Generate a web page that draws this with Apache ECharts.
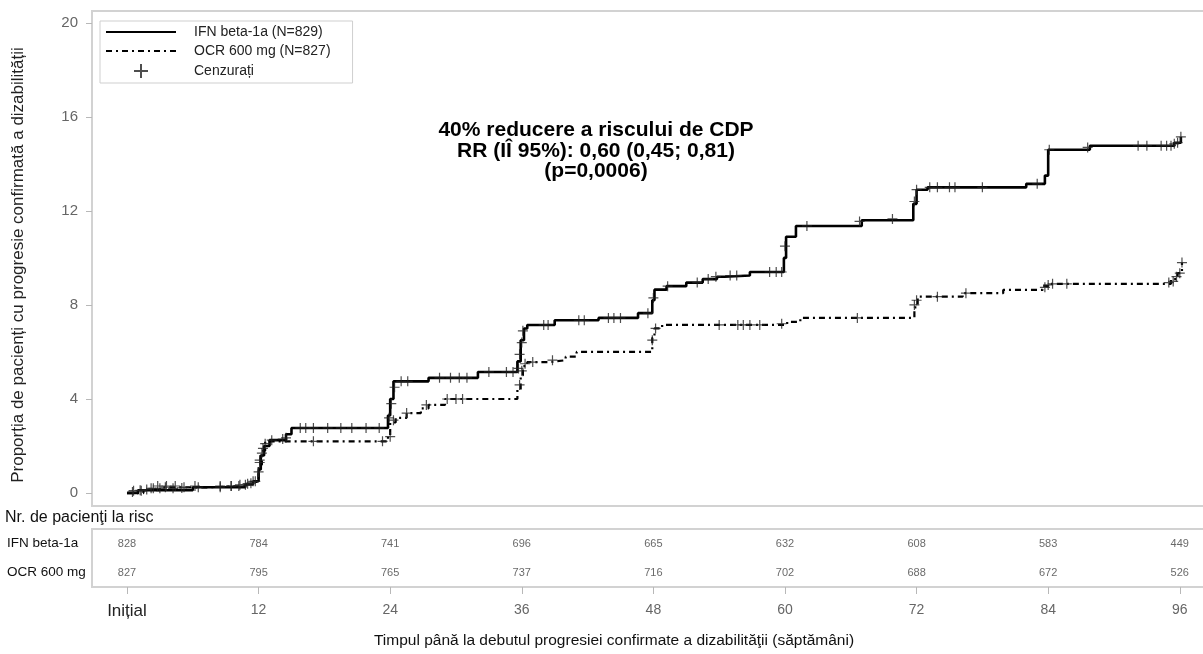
<!DOCTYPE html>
<html><head><meta charset="utf-8">
<script src="https://cdn.jsdelivr.net/npm/echarts@6/dist/echarts.min.js"></script>
<style>html,body{margin:0;padding:0;background:#fff}#c{width:1203px;height:654px}</style>
</head><body><div id="c"></div>
<script>
// ---- data ----
const weekTicks = [0, 12, 24, 36, 48, 60, 72, 84, 96];
const tickLabels = ['Inițial', '12', '24', '36', '48', '60', '72', '84', '96'];
const yTicks = [0, 4, 8, 12, 16, 20];
const armNames = ['IFN beta-1a (N=829)', 'OCR 600 mg (N=827)', 'Cenzurați'];
const rowLabels = ['IFN beta-1a', 'OCR 600 mg'];
const riskIFN = [828, 784, 741, 696, 665, 632, 608, 583, 449];
const riskOCR = [827, 795, 765, 737, 716, 702, 688, 672, 526];

const ifnSteps = [[0,0],[1,0.12],[6,0.25],[10.8,0.37],[11.5,0.5],[12,1.0],[12.2,1.6],[12.5,2.0],[13,2.25],[14.5,2.5],[15,2.77],[23.8,3.3],[24,4.0],[24.3,4.75],[27.5,4.9],[32,5.15],[35.6,5.6],[35.9,6.5],[36.2,7.0],[36.5,7.15],[39,7.35],[43,7.45],[46.6,7.65],[47.9,8.2],[48.1,8.65],[49.2,8.8],[51,8.95],[52.5,9.1],[53.8,9.2],[54.5,9.25],[56.8,9.4],[59.9,10.0],[60.1,10.9],[61,11.36],[67,11.6],[71.7,12.3],[72,12.9],[73,13.0],[82,13.15],[83.7,13.5],[84,14.6],[87.8,14.77],[95.5,14.9],[96.1,15.15]];
const ocrSteps = [[0,0],[1.5,0.12],[3,0.24],[7,0.3],[11,0.4],[11.8,0.6],[12,1.2],[12.3,1.8],[12.6,2.2],[23.8,2.4],[24,3.0],[24.5,3.2],[25.5,3.4],[26.8,3.6],[27.5,3.75],[29,4.0],[35.6,4.4],[35.9,5.0],[36.1,5.4],[36.5,5.57],[38.5,5.65],[40,5.8],[41,6.0],[47.9,6.6],[48.1,7.0],[48.8,7.15],[60.2,7.28],[61.4,7.45],[71.8,7.9],[72.1,8.35],[76.2,8.5],[79.9,8.64],[83.5,8.8],[84,8.9],[95.2,9.1],[95.8,9.35],[96.2,9.8]];

const ifnCensored = [[0.6,0.1],[1.2,0.12],[1.8,0.15],[2.4,0.2],[3,0.2],[3.5,0.25],[4.2,0.2],[5,0.22],[6.5,0.25],[8.5,0.25],[9.5,0.3],[10.2,0.3],[10.8,0.35],[11.3,0.42],[11.7,0.5],[12,0.9],[12.1,1.3],[12.3,1.7],[12.6,2.1],[13.2,2.25],[14.5,2.35],[15.8,2.77],[16.3,2.77],[17,2.77],[18.3,2.77],[19.5,2.77],[20.5,2.77],[21.8,2.77],[23,2.77],[23.9,3.2],[24.1,3.8],[24.4,4.5],[25,4.75],[25.6,4.75],[28.5,4.9],[29.5,4.9],[30.3,4.9],[31,4.9],[33,5.15],[34.6,5.15],[35.2,5.15],[35.7,5.3],[35.8,5.9],[36,6.4],[36.1,6.9],[38,7.15],[38.4,7.15],[41.2,7.35],[41.7,7.35],[43.9,7.45],[44.4,7.45],[45,7.45],[47.5,7.65],[48,8.3],[49.3,8.8],[52,8.95],[53,9.1],[53.7,9.2],[55,9.25],[55.6,9.25],[58.6,9.4],[59.2,9.4],[59.7,9.4],[60,10.5],[62,11.36],[66.8,11.55],[69.8,11.66],[71.8,12.4],[72,12.9],[73.2,13.0],[73.9,13.0],[75,13.0],[75.5,13.0],[78,13.0],[83,13.15],[84.1,14.6],[87.6,14.7],[92.2,14.77],[93,14.77],[94.3,14.77],[94.8,14.77],[95.2,14.77],[95.5,14.85],[95.8,14.9],[96.1,15.15]];
const ocrCensored = [[0.5,0.05],[1.3,0.1],[2.2,0.2],[2.8,0.3],[3.6,0.3],[4.4,0.3],[5.2,0.25],[6.2,0.3],[8.5,0.3],[9.5,0.3],[10.3,0.35],[11,0.4],[11.5,0.5],[12.1,1.4],[12.4,1.9],[14.2,2.3],[17,2.2],[23.3,2.2],[24,2.4],[24.3,3.1],[25.5,3.4],[27.3,3.75],[29.2,4.0],[30,4.0],[30.6,4.0],[35.8,4.6],[36,5.2],[36.3,5.5],[37,5.57],[38.8,5.65],[47.9,6.5],[48.2,7.0],[54,7.15],[55.7,7.15],[56.2,7.15],[56.8,7.15],[57.7,7.15],[59.7,7.2],[66.6,7.45],[71.8,8.0],[72,8.2],[73.9,8.35],[76.5,8.5],[83.7,8.75],[84,8.85],[84.4,8.9],[85.7,8.9],[95,8.95],[95.4,9.0],[95.7,9.2],[96,9.35],[96.2,9.8]];

const annotation = ['40% reducere a riscului de CDP', 'RR (IÎ 95%): 0,60 (0,45; 0,81)', '(p=0,0006)'];
const yTitle = 'Proporția de pacienți cu progresie confirmată a dizabilității';
const xTitle = 'Timpul până la debutul progresiei confirmate a dizabilităţii (săptămâni)';
const riskTitle = 'Nr. de pacienţi la risc';

// ---- chart ----
const FONT = "'Liberation Sans', Arial, sans-serif";
const XMIN = -3.19, XMAX = 98.3;
const plusPath = 'path://M5,0L5,10M0,5L10,5';

const riskData = [];
weekTicks.forEach((w, i) => {
  riskData.push([w, rowLabels[0], riskIFN[i]]);
  riskData.push([w, rowLabels[1], riskOCR[i]]);
});

const chart = echarts.init(document.getElementById('c'), null, {renderer: 'canvas'});
chart.setOption({
  animation: false,
  textStyle: {fontFamily: FONT},
  grid: [
    {left: 92, top: 11, right: -2, height: 495, show: true, borderColor: '#d2d2d2', borderWidth: 2, containLabel: false, outerBoundsMode: 'none'},
    {left: 92, top: 529, right: -2, height: 58, show: true, borderColor: '#d2d2d2', borderWidth: 2, containLabel: false, outerBoundsMode: 'none'}
  ],
  legend: {
    left: 100, top: 21, orient: 'vertical',
    itemWidth: 70, itemHeight: 14, itemGap: 5,
    borderColor: '#cfcfcf', borderWidth: 1, padding: [4, 22, 4, 5],
    selectedMode: false,
    textStyle: {fontSize: 14, color: '#222', fontFamily: FONT, padding: [0, 0, 0, 13]},
    data: [
      {name: armNames[0], itemStyle: {opacity: 0}},
      {name: armNames[1], itemStyle: {opacity: 0}},
      {name: armNames[2]}
    ]
  },
  xAxis: [
    {type: 'value', gridIndex: 0, min: XMIN, max: XMAX, show: false},
    {type: 'value', gridIndex: 1, min: XMIN, max: XMAX, position: 'bottom',
     axisLine: {show: false, onZero: false},
     splitLine: {show: false},
     axisTick: {show: true, customValues: weekTicks, length: 7, lineStyle: {color: '#b8b8b8'}},
     axisLabel: {customValues: weekTicks, margin: 16, fontSize: 14, color: '#666',
       formatter: v => { const i = weekTicks.indexOf(v); return i === 0 ? '{a|' + tickLabels[0] + '}' : tickLabels[i]; },
       rich: {a: {fontSize: 17, color: '#222', fontFamily: FONT}}}
    }
  ],
  yAxis: [
    {type: 'value', gridIndex: 0, min: -0.55, max: 20.5,
     axisLine: {show: false, onZero: false}, splitLine: {show: false},
     axisTick: {show: true, customValues: yTicks, length: 6, lineStyle: {color: '#b8b8b8'}},
     axisLabel: {customValues: yTicks, margin: 14, fontSize: 15, color: '#666'}
    },
    {type: 'category', gridIndex: 1, data: rowLabels, inverse: true,
     axisLine: {show: false, onZero: false}, axisTick: {show: false}, splitLine: {show: false},
     axisLabel: {align: 'left', margin: 85, fontSize: 13.5, color: '#111'}
    }
  ],
  graphic: [
    {type: 'text', x: 596, y: 130, style: {text: annotation[0], font: 'bold 21px ' + FONT, fill: '#000', textAlign: 'center', textVerticalAlign: 'middle'}},
    {type: 'text', x: 596, y: 151, style: {text: annotation[1], font: 'bold 21px ' + FONT, fill: '#000', textAlign: 'center', textVerticalAlign: 'middle'}},
    {type: 'text', x: 596, y: 171, style: {text: annotation[2], font: 'bold 21px ' + FONT, fill: '#000', textAlign: 'center', textVerticalAlign: 'middle'}},
    {type: 'text', x: 18, y: 265, rotation: Math.PI / 2, style: {text: yTitle, font: '17px ' + FONT, fill: '#222', textAlign: 'center', textVerticalAlign: 'middle'}},
    {type: 'text', x: 5, y: 518, style: {text: riskTitle, font: '16px ' + FONT, fill: '#111', textAlign: 'left', textVerticalAlign: 'middle'}},
    {type: 'text', x: 614, y: 641, style: {text: xTitle, font: '15.5px ' + FONT, fill: '#111', textAlign: 'center', textVerticalAlign: 'middle'}}
  ],
  series: [
    {name: armNames[0], type: 'line', xAxisIndex: 0, yAxisIndex: 0, step: 'end', symbol: 'none',
     data: ifnSteps, lineStyle: {color: '#000', width: 2.6}, itemStyle: {color: '#000'}, z: 3},
    {name: armNames[1], type: 'line', xAxisIndex: 0, yAxisIndex: 0, step: 'end', symbol: 'none',
     data: ocrSteps, lineStyle: {color: '#000', width: 2.2, type: [6, 4, 2, 4]}, itemStyle: {color: '#000'}, z: 3},
    {name: armNames[2], type: 'scatter', xAxisIndex: 0, yAxisIndex: 0, symbol: plusPath, symbolSize: 10,
     data: ifnCensored, itemStyle: {color: 'rgba(0,0,0,0)', borderColor: '#222', borderWidth: 1.2}, z: 4},
    {name: armNames[2], type: 'scatter', xAxisIndex: 0, yAxisIndex: 0, symbol: plusPath, symbolSize: 10,
     data: ocrCensored, itemStyle: {color: 'rgba(0,0,0,0)', borderColor: '#222', borderWidth: 1.2}, z: 4},
    {name: 'risc', type: 'scatter', xAxisIndex: 1, yAxisIndex: 1, symbolSize: 0, data: riskData,
     label: {show: true, position: 'inside', formatter: p => String(p.value[2]), fontSize: 11, color: '#444'}}
  ]
});
</script>
</body></html>
